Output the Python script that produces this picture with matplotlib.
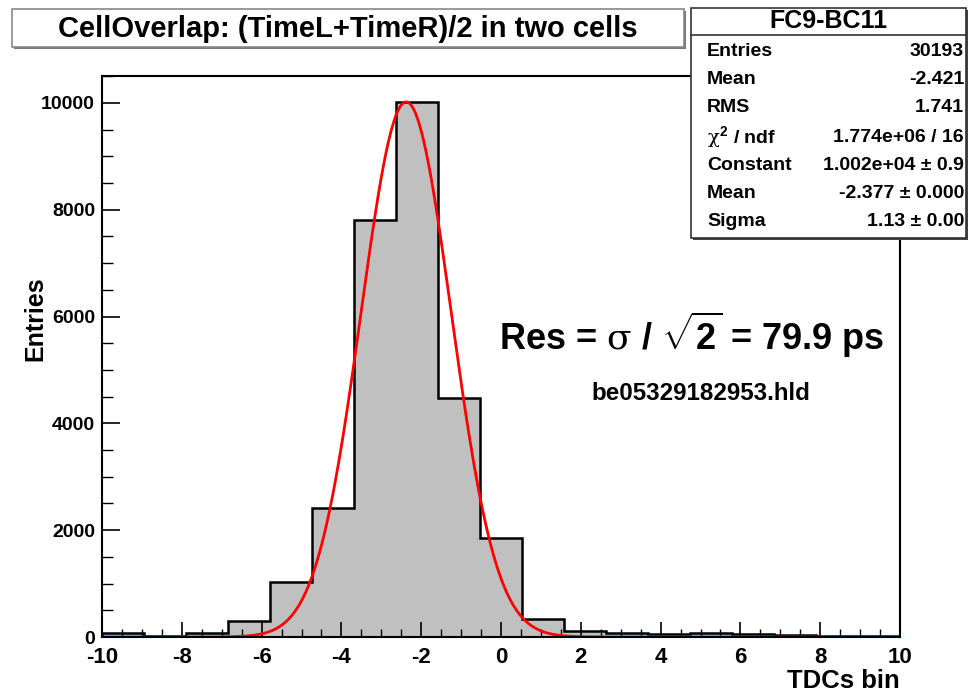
import numpy as np
import matplotlib
matplotlib.use("Agg")
import matplotlib.pyplot as plt
from matplotlib.patches import Rectangle
from matplotlib.ticker import MultipleLocator

plt.rcParams['font.family'] = ['Liberation Sans', 'DejaVu Sans']
plt.rcParams['axes.unicode_minus'] = False
plt.rcParams['mathtext.fontset'] = 'custom'
plt.rcParams['mathtext.rm'] = 'Liberation Sans:bold'
plt.rcParams['mathtext.it'] = 'DejaVu Serif'

x_min, x_max, n_bins = -10, 10, 19
counts = [80, 20, 80, 305, 1025, 2415, 7810, 10020, 4475, 1860,
          337, 112, 70, 50, 80, 55, 40, 15, 10]

# Paramètres du fit gaussien (boîte de stats)
fit_const = 1.002e4
fit_mean = -2.377
fit_sigma = 1.13

title = 'CellOverlap: (TimeL+TimeR)/2 in two cells'
stats_header = 'FC9-BC11'
stat_labels = ['Entries', 'Mean', 'RMS', r'$\chi^2$ / ndf', 'Constant', 'Mean', 'Sigma']
stat_values = ['30193', '-2.421', '1.741', '1.774e+06 / 16',
               '1.002e+04 ± 0.9', '-2.377 ± 0.000', '1.13 ± 0.00']
res_text = r'Res = $\sigma$ / $\sqrt{2}$ = 79.9 ps'
file_text = 'be05329182953.hld'

W, H = 969, 693


def fx(px):
    return px / W


def fy(py):
    return 1 - py / H


fig = plt.figure(figsize=(W / 100, H / 100), dpi=100)
fig.patch.set_facecolor('white')

ax = fig.add_axes([fx(102), fy(637), fx(900) - fx(102), fy(76) - fy(637)])
edges = np.linspace(x_min, x_max, n_bins + 1)
ax.stairs(counts, edges, fill=True, color='#c0c0c0', baseline=0)
ax.stairs(counts, edges, color='black', linewidth=1.8, baseline=0)

xs = np.linspace(x_min, x_max, 600)
gauss = fit_const * np.exp(-0.5 * ((xs - fit_mean) / fit_sigma) ** 2)
ax.plot(xs, gauss, color='red', linewidth=2.0)

ax.set_xlim(x_min, x_max)
ax.set_ylim(0, 10505)
for s in ax.spines.values():
    s.set_linewidth(1.5)

ax.xaxis.set_major_locator(MultipleLocator(2))
ax.xaxis.set_minor_locator(MultipleLocator(0.5))
ax.yaxis.set_major_locator(MultipleLocator(2000))
ax.yaxis.set_minor_locator(MultipleLocator(500))
ax.tick_params(axis='x', which='major', direction='in', length=11, width=1.2,
               labelsize=16, pad=7)
ax.tick_params(axis='x', which='minor', direction='in', length=5.5, width=1.0)
ax.tick_params(axis='y', which='major', direction='in', length=13, width=1.2,
               labelsize=14, pad=5)
ax.tick_params(axis='y', which='minor', direction='in', length=8, width=1.0)
for lab in ax.get_xticklabels() + ax.get_yticklabels():
    lab.set_fontweight('bold')

# Titres d'axes
fig.text(fx(900), fy(681), 'TDCs bin', ha='right', va='center',
         fontsize=18.5, fontweight='bold')
fig.text(fx(35), fy(319), 'Entries', ha='center', va='center', rotation=90,
         fontsize=18, fontweight='bold')

# Textes dans le cadre
fig.text(fx(692), fy(335), res_text, ha='center', va='center',
         fontsize=26, fontweight='bold')
fig.text(fx(701), fy(394), file_text, ha='center', va='center',
         fontsize=17.4, fontweight='bold')

# Boîte du titre
fig.add_artist(Rectangle((fx(14), fy(49)), fx(684) - fx(12), fy(9) - fy(47),
                         transform=fig.transFigure, facecolor='#777777',
                         edgecolor='none'))
fig.add_artist(Rectangle((fx(12), fy(47)), fx(684) - fx(12), fy(9) - fy(47),
                         transform=fig.transFigure, facecolor='white',
                         edgecolor='#888888', linewidth=1.2))
fig.text(fx(348), fy(29), title, ha='center', va='center',
         fontsize=21, fontweight='bold')

# Boîte de stats
bx0, bx1, by0, by1 = 691, 966, 8, 238
fig.add_artist(Rectangle((fx(bx0 + 2), fy(by1 + 2)), fx(bx1) - fx(bx0), fy(by0) - fy(by1),
                         transform=fig.transFigure, facecolor='#444444',
                         edgecolor='none', zorder=5))
fig.add_artist(Rectangle((fx(bx0), fy(by1)), fx(bx1) - fx(bx0), fy(by0) - fy(by1),
                         transform=fig.transFigure, facecolor='white',
                         edgecolor='#333333', linewidth=1.2, zorder=6))
fig.add_artist(plt.Line2D([fx(bx0), fx(bx1)], [fy(35), fy(35)],
                          transform=fig.transFigure, color='#333333',
                          linewidth=1.2, zorder=7))
fig.text(fx((bx0 + bx1) / 2), fy(21), stats_header, ha='center', va='center',
         fontsize=18, fontweight='bold', zorder=8)
row_y = [52, 80, 108, 137, 165, 194, 222]
for lab, val, y in zip(stat_labels, stat_values, row_y):
    fig.text(fx(707), fy(y), lab, ha='left', va='center',
             fontsize=14, fontweight='bold', zorder=8)
    fig.text(fx(964), fy(y), val, ha='right', va='center',
             fontsize=14, fontweight='bold', zorder=8)

plt.savefig('out.png', dpi=100)
